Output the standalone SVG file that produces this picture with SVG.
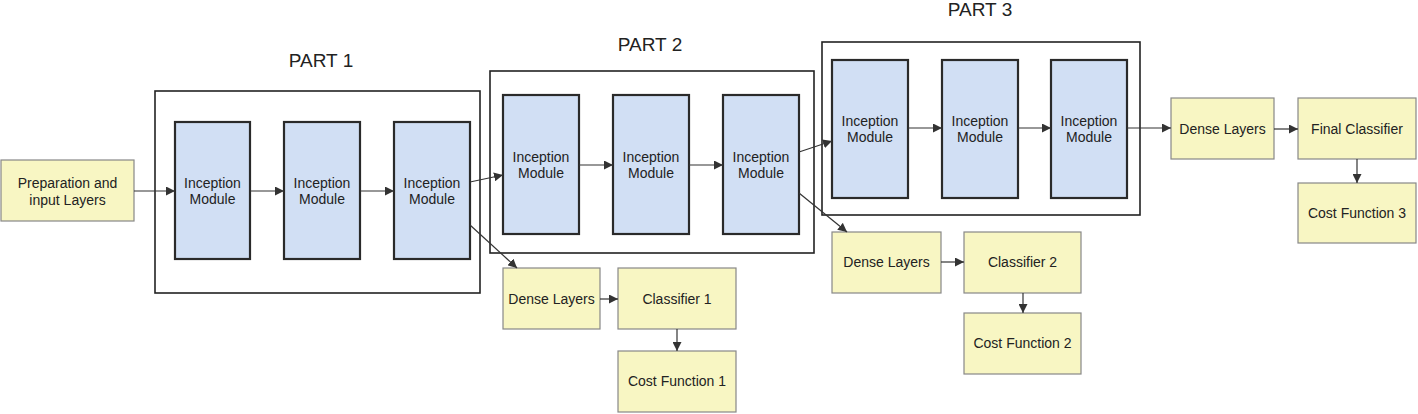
<svg xmlns="http://www.w3.org/2000/svg" width="1418" height="414" viewBox="0 0 1418 414">
<defs>
<marker id="arr" viewBox="0 0 10 10" refX="10" refY="5" markerWidth="9" markerHeight="9" markerUnits="userSpaceOnUse" orient="auto">
<path d="M0,0 L10,5 L0,10 z" fill="#333"/>
</marker>
<style>
.part{fill:#fff;stroke:#222;stroke-width:1.6}
.im{fill:#d1dff4;stroke:#2a2a2a;stroke-width:2.2}
.y{fill:#f8f6c3;stroke:#888;stroke-width:1.2}
text{font-family:"Liberation Sans",Arial,sans-serif;fill:#222;text-anchor:middle}
.t{font-size:14px}
.h{font-size:19px}
.c line{stroke:#333;stroke-width:1.2;marker-end:url(#arr)}
</style>
</defs>
<rect width="1418" height="414" fill="#fff"/>
<g id="part1"><rect class="part" x="155" y="91" width="325" height="202"/><text class="h" x="321" y="67">PART 1</text></g>
<g id="part2"><rect class="part" x="490" y="71" width="324" height="182"/><text class="h" x="650" y="51">PART 2</text></g>
<g id="part3"><rect class="part" x="822" y="42" width="318" height="173"/><text class="h" x="980" y="16">PART 3</text></g>

<g id="prep"><rect class="y" x="1" y="160" width="133" height="61"/><text class="t" x="67.5" y="188">Preparation and</text><text class="t" x="67.5" y="205">input Layers</text></g>

<g id="im11"><rect class="im" x="175" y="122" width="75" height="137"/><text class="t" x="212.5" y="188">Inception</text><text class="t" x="212.5" y="204">Module</text></g>
<g id="im12"><rect class="im" x="284" y="122" width="76" height="137"/><text class="t" x="322" y="188">Inception</text><text class="t" x="322" y="204">Module</text></g>
<g id="im13"><rect class="im" x="394" y="122" width="76" height="137"/><text class="t" x="432" y="188">Inception</text><text class="t" x="432" y="204">Module</text></g>

<g id="im21"><rect class="im" x="503" y="95" width="76" height="139"/><text class="t" x="541" y="162">Inception</text><text class="t" x="541" y="178">Module</text></g>
<g id="im22"><rect class="im" x="613" y="95" width="76" height="139"/><text class="t" x="651" y="162">Inception</text><text class="t" x="651" y="178">Module</text></g>
<g id="im23"><rect class="im" x="723" y="95" width="76" height="139"/><text class="t" x="761" y="162">Inception</text><text class="t" x="761" y="178">Module</text></g>

<g id="im31"><rect class="im" x="832" y="60" width="76" height="138"/><text class="t" x="870" y="126">Inception</text><text class="t" x="870" y="142">Module</text></g>
<g id="im32"><rect class="im" x="942" y="60" width="76" height="138"/><text class="t" x="980" y="126">Inception</text><text class="t" x="980" y="142">Module</text></g>
<g id="im33"><rect class="im" x="1051" y="60" width="76" height="138"/><text class="t" x="1089" y="126">Inception</text><text class="t" x="1089" y="142">Module</text></g>

<g id="dense1"><rect class="y" x="503" y="268" width="97" height="61"/><text class="t" x="551.5" y="304">Dense Layers</text></g>
<g id="class1"><rect class="y" x="618" y="268" width="118" height="61"/><text class="t" x="677" y="304">Classifier 1</text></g>
<g id="cost1"><rect class="y" x="618" y="351" width="118" height="61"/><text class="t" x="677" y="386">Cost Function 1</text></g>

<g id="dense2"><rect class="y" x="832" y="232" width="109" height="61"/><text class="t" x="886.5" y="267">Dense Layers</text></g>
<g id="class2"><rect class="y" x="964" y="232" width="117" height="61"/><text class="t" x="1022.5" y="267">Classifier 2</text></g>
<g id="cost2"><rect class="y" x="964" y="313" width="117" height="61"/><text class="t" x="1022.5" y="348">Cost Function 2</text></g>

<g id="dense3"><rect class="y" x="1171" y="98" width="103" height="61"/><text class="t" x="1222.5" y="134">Dense Layers</text></g>
<g id="final"><rect class="y" x="1298" y="98" width="118" height="61"/><text class="t" x="1357" y="134">Final Classifier</text></g>
<g id="cost3"><rect class="y" x="1298" y="183" width="118" height="60"/><text class="t" x="1357" y="218">Cost Function 3</text></g>

<g class="c" id="connectors">
<line x1="134" y1="191" x2="175" y2="191"/>
<line x1="250" y1="191" x2="284" y2="191"/>
<line x1="360" y1="191" x2="394" y2="191"/>
<line x1="470" y1="182" x2="503" y2="175"/>
<line x1="470" y1="225" x2="517" y2="268"/>
<line x1="579" y1="165" x2="613" y2="165"/>
<line x1="689" y1="165" x2="723" y2="165"/>
<line x1="799" y1="152" x2="832" y2="141"/>
<line x1="799" y1="193" x2="847" y2="232"/>
<line x1="908" y1="128" x2="942" y2="128"/>
<line x1="1018" y1="128" x2="1051" y2="128"/>
<line x1="1127" y1="128" x2="1171" y2="128"/>
<line x1="1274" y1="129" x2="1298" y2="129"/>
<line x1="1357" y1="159" x2="1357" y2="183"/>
<line x1="600" y1="299" x2="618" y2="299"/>
<line x1="677" y1="329" x2="677" y2="351"/>
<line x1="941" y1="262" x2="964" y2="262"/>
<line x1="1023" y1="293" x2="1023" y2="313"/>
</g>
</svg>
